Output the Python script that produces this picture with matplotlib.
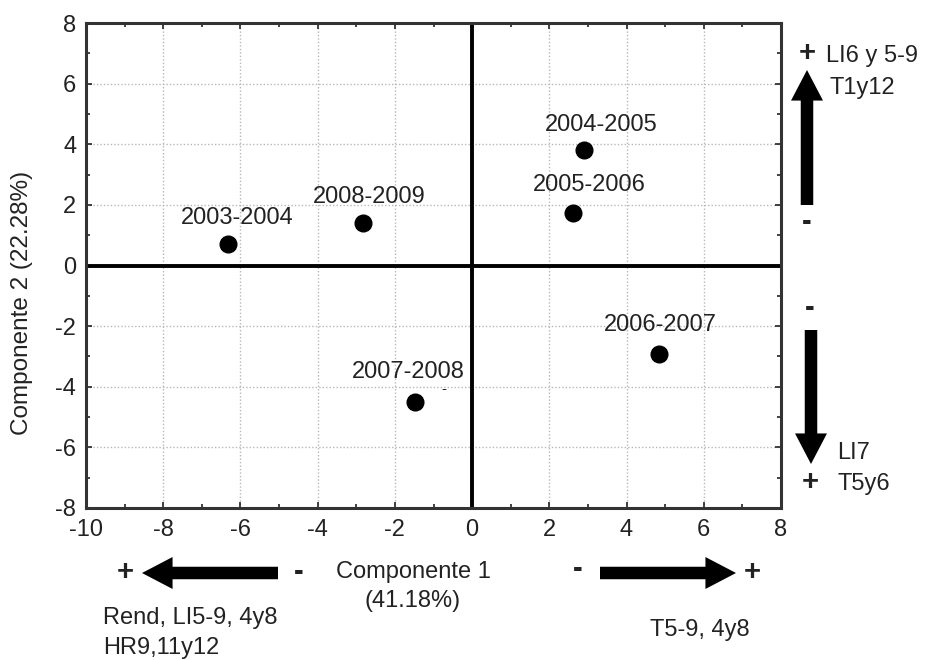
import matplotlib
matplotlib.use("Agg")
import matplotlib.pyplot as plt
from matplotlib.patches import FancyArrowPatch
import numpy as np

plt.rcParams['font.family'] = ['Liberation Sans', 'DejaVu Sans']
plt.rcParams['axes.unicode_minus'] = False

# ---- data ----
labels = ["2003-2004", "2008-2009", "2004-2005", "2005-2006", "2006-2007", "2007-2008"]
comp1 = [-6.32, -2.82, 2.90, 2.61, 4.84, -1.49]
comp2 = [0.71, 1.40, 3.81, 1.72, -2.93, -4.49]
label_offsets_px = [(9, 26), (6, 26), (17, 25), (16, 28), (1, 29), (-6, 30)]
xticks = [-10, -8, -6, -4, -2, 0, 2, 4, 6, 8]
yticks = [-8, -6, -4, -2, 0, 2, 4, 6, 8]

W, H = 926, 660
fig = plt.figure(figsize=(W / 100, H / 100), dpi=100)

def fx(x):
    return x / W

def fy(y):
    return 1 - y / H

ax = fig.add_axes([fx(86), fy(508), fx(781) - fx(86), fy(23) - fy(508)])
ax.set_xlim(-10, 8)
ax.set_ylim(-8, 8)
ax.set_xticks(xticks)
ax.set_yticks(yticks)
ax.set_xticks(np.arange(-10, 9, 1), minor=True)
ax.set_yticks(np.arange(-8, 9, 1), minor=True)
ax.tick_params(axis='both', which='both', direction='in', top=True, right=True,
               labelsize=17, color='#222222', labelcolor='#222222')
ax.tick_params(which='major', length=4, width=1.2)
ax.tick_params(which='minor', length=3, width=1.2)
ax.tick_params(axis='x', which='major', pad=8)
ax.tick_params(axis='y', which='major', pad=7)
ax.grid(True, which='major', color='#b8b8b8', linestyle=(0, (1, 1.5)), linewidth=1)
for s in ax.spines.values():
    s.set_color('#333333')
    s.set_linewidth(2.2)

ax.axhline(0, color='black', linewidth=2.8, zorder=2)
ax.axvline(0, color='black', linewidth=2.8, zorder=2)

ax.plot(comp1, comp2, 'o', color='black', markersize=12, zorder=3)
for lab, x, y, (dx, dy) in zip(labels, comp1, comp2, label_offsets_px):
    ax.annotate(lab, (x, y), xytext=(dx * 0.72, dy * 0.72), textcoords='offset points',
                ha='center', va='center', fontsize=17, color='#222222', zorder=4)
# small dash near 2007-2008 label
ax.annotate("-", (comp1[5], comp2[5]), xytext=(29 * 0.72, 13 * 0.72), textcoords='offset points',
            ha='center', va='center', fontsize=11, color='#222222')

fig.text(fx(22), fy(303), "Componente 2 (22.28%)", rotation=90, ha='center', va='center',
         fontsize=17.5, color='#222222')

def farrow(x0, y0, x1, y1):
    a = FancyArrowPatch((fx(x0), fy(y0)), (fx(x1), fy(y1)), transform=fig.transFigure,
                        arrowstyle='simple,head_length=22,head_width=23,tail_width=9',
                        mutation_scale=1, color='black', linewidth=0, shrinkA=0, shrinkB=0)
    fig.add_artist(a)

def ftext(x, y, s, ha='center', size=17, weight='normal'):
    fig.text(fx(x), fy(y), s, ha=ha, va='center', fontsize=size, color='#222222', fontweight=weight)

# right side: vertical arrows
farrow(807, 205, 807, 70)
ftext(807, 53, "+", size=21, weight='bold')
ftext(807, 222, "-", size=21, weight='bold')
ftext(826, 56, "LI6 y 5-9", ha='left')
ftext(829, 88, "T1y12", ha='left')

farrow(811, 330, 811, 464)
ftext(810, 308, "-", size=21, weight='bold')
ftext(810, 482, "+", size=21, weight='bold')
ftext(837, 453, "LI7", ha='left')
ftext(837, 484, "T5y6", ha='left')

# bottom: horizontal arrows
farrow(278, 573, 142, 573)
ftext(125, 572, "+", size=21, weight='bold')
ftext(299, 572, "-", size=21, weight='bold')
ftext(413, 572, "Componente 1")
ftext(413, 601, "(41.18%)")
ftext(103, 618, "Rend, LI5-9, 4y8", ha='left')
ftext(103, 648, "HR9,11y12", ha='left')

farrow(600, 573, 736, 573)
ftext(578, 569, "-", size=21, weight='bold')
ftext(752, 572, "+", size=21, weight='bold')
ftext(700, 630, "T5-9, 4y8")

fig.savefig("out.png", dpi=100, facecolor='white')
